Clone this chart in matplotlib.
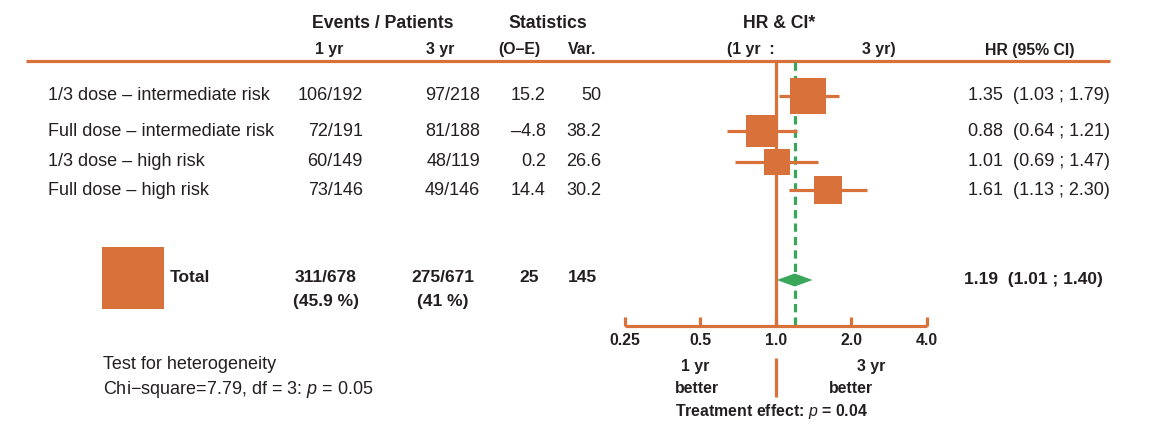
import numpy as np
import matplotlib
matplotlib.use("Agg")
import matplotlib.pyplot as plt

plt.rcParams['font.family'] = ['Liberation Sans', 'DejaVu Sans']
plt.rcParams['mathtext.fontset'] = 'custom'
plt.rcParams['mathtext.rm'] = 'Liberation Sans'
plt.rcParams['mathtext.it'] = 'Liberation Sans:italic'
plt.rcParams['mathtext.bf'] = 'Liberation Sans:bold'

# --- data ---
groups = ["1/3 dose \u2013 intermediate risk", "Full dose \u2013 intermediate risk",
          "1/3 dose \u2013 high risk", "Full dose \u2013 high risk"]
events_1yr = [106, 72, 60, 73]
patients_1yr = [192, 191, 149, 146]
events_3yr = [97, 81, 48, 49]
patients_3yr = [218, 188, 119, 146]
o_minus_e = [15.2, -4.8, 0.2, 14.4]
variance = [50, 38.2, 26.6, 30.2]
hr = [1.35, 0.88, 1.01, 1.61]
hr_lo = [1.03, 0.64, 0.69, 1.13]
hr_hi = [1.79, 1.21, 1.47, 2.30]
total_hr, total_lo, total_hi = 1.19, 1.01, 1.40
ticks = [0.25, 0.5, 1.0, 2.0, 4.0]
tick_labels = ["0.25", "0.5", "1.0", "2.0", "4.0"]

ORANGE = '#d9713a'
GREEN = '#3aa65a'
TXT = '#231f20'
LW = 2.3
BOX_K = 5.2  # px per sqrt(var)

# layout (pixels, y down)
row_y = [96, 131.5, 162, 190.5]
total_y = 277.5
axis_y = 326
head_y = 61


def fmt(v):
    s = f"{v:.1f}".rstrip('0').rstrip('.')
    return s.replace('-', '\u2013')


fig = plt.figure(figsize=(11.5, 4.4), dpi=100)
ax = fig.add_axes([0, 0, 1, 1])
ax.set_xlim(0, 1150)
ax.set_ylim(440, 0)
ax.axis('off')

# forest axes: 0.25 -> 624.5 px, 4.0 -> 927 px
x0, x1 = 624.5, 927.0
fx = fig.add_axes([x0 / 1150, 0, (x1 - x0) / 1150, 1])
fx.set_xscale('log', base=2)
fx.set_xlim(0.25, 4.0)
fx.set_ylim(440, 0)
fx.patch.set_alpha(0)
for s in ['top', 'left', 'right']:
    fx.spines[s].set_visible(False)
fx.spines['bottom'].set_position(('data', axis_y))
fx.spines['bottom'].set_color(ORANGE)
fx.spines['bottom'].set_linewidth(LW)
fx.spines['bottom'].set_capstyle('butt')
fx.set_yticks([])
fx.set_xticks(ticks)
fx.set_xticklabels(tick_labels, fontsize=11.4, fontweight='bold', color=TXT)
fx.xaxis.set_minor_locator(matplotlib.ticker.NullLocator())
fx.tick_params(axis='x', direction='in', length=6.5, width=LW, color=ORANGE, pad=5)

# header line
ax.plot([26, 1110], [head_y, head_y], color=ORANGE, lw=LW, solid_capstyle='butt')

# reference line at HR = 1 and pooled dashed line
fx.plot([1, 1], [head_y, axis_y], color=ORANGE, lw=LW, clip_on=False, solid_capstyle='butt')
fx.plot([1, 1], [358, 397], color=ORANGE, lw=LW, clip_on=False, solid_capstyle='butt')
fx.plot([total_hr, total_hr], [head_y + 1, axis_y], color=GREEN, lw=LW,
        dashes=(2.6, 1.6), clip_on=False)

# rows
for i, y in enumerate(row_y):
    fx.plot([hr_lo[i], hr_hi[i]], [y, y], color=ORANGE, lw=LW, solid_capstyle='butt')
    size = BOX_K * np.sqrt(variance[i]) * 0.72
    fx.plot(hr[i], y, marker='s', ms=size, color=ORANGE, mew=0)
    ax.text(48, y, groups[i], fontsize=13, color=TXT, ha='left', va='center')
    ax.text(363, y, f"{events_1yr[i]}/{patients_1yr[i]}", fontsize=13, color=TXT, ha='right', va='center')
    ax.text(480, y, f"{events_3yr[i]}/{patients_3yr[i]}", fontsize=13, color=TXT, ha='right', va='center')
    ax.text(546, y, fmt(o_minus_e[i]), fontsize=13, color=TXT, ha='right', va='center')
    ax.text(601, y, fmt(variance[i]), fontsize=13, color=TXT, ha='right', va='center')
    ax.text(1110, y, f"{hr[i]:.2f}  ({hr_lo[i]:.2f} ; {hr_hi[i]:.2f})", fontsize=13,
            color=TXT, ha='right', va='center')

# pooled diamond
dh = 6.5
fx.fill([total_lo, total_hr, total_hi, total_hr],
        [total_y + 2.5, total_y + 2.5 - dh, total_y + 2.5, total_y + 2.5 + dh],
        color=GREEN, lw=0, clip_on=False)

# totals
tot_e1, tot_p1 = sum(events_1yr), sum(patients_1yr)
tot_e3, tot_p3 = sum(events_3yr), sum(patients_3yr)
tot_oe, tot_var = sum(o_minus_e), sum(variance)
ax.plot(133, total_y + 0.5, marker='s', ms=BOX_K * np.sqrt(tot_var) * 0.72, color=ORANGE, mew=0)
bold = dict(fontsize=12.5, fontweight='bold', color=TXT, va='center')
ax.text(170, total_y, "Total", ha='left', **bold)
ax.text(326, total_y, f"{tot_e1}/{tot_p1}", ha='center', **bold)
ax.text(326, total_y + 24, f"({fmt(100 * tot_e1 / tot_p1)} %)", ha='center', **bold)
ax.text(442.5, total_y, f"{tot_e3}/{tot_p3}", ha='center', **bold)
ax.text(442.5, total_y + 24, f"({fmt(100 * tot_e3 / tot_p3)} %)", ha='center', **bold)
ax.text(539, total_y, fmt(tot_oe), ha='right', **bold)
ax.text(597, total_y, fmt(tot_var), ha='right', **bold)
ax.text(1103, total_y + 2, f"{total_hr:.2f}  ({total_lo:.2f} ; {total_hi:.2f})", ha='right', **bold)

# headers
h1 = dict(fontsize=12.7, fontweight='bold', color=TXT, va='center')
h2 = dict(fontsize=11.4, fontweight='bold', color=TXT, va='center')
ax.text(383, 24, "Events / Patients", ha='center', **h1)
ax.text(548, 24, "Statistics", ha='center', **h1)
ax.text(779, 24, "HR & CI*", ha='center', **h1)
ax.text(329, 49.5, "1 yr", ha='center', **h2)
ax.text(440, 49.5, "3 yr", ha='center', **h2)
ax.text(519, 49.5, "(O\u2013E)", ha='center', **h2)
ax.text(582, 49.5, "Var.", ha='center', **h2)
ax.text(727, 49.5, "(1 yr  :", ha='left', **h2)
ax.text(896, 49.5, "3 yr)", ha='right', **h2)
ax.text(1030, 50.5, "HR (95% CI)", ha='center', **h2)

# bottom annotations
ax.text(695, 366, "1 yr", ha='center', **h2)
ax.text(697, 388.5, "better", ha='center', **h2)
ax.text(871, 366, "3 yr", ha='center', **h2)
ax.text(851, 388.5, "better", ha='center', **h2)
ax.text(771, 411.5, "Treatment effect: $p$ = 0.04", ha='center', **h2)

ax.text(103, 364.5, "Test for heterogeneity", fontsize=13, color=TXT, ha='left', va='center')
ax.text(103, 389.5, "Chi\u2212square=7.79, df = 3: $p$ = 0.05", fontsize=13, color=TXT,
        ha='left', va='center')

fig.savefig("out.png", dpi=100)
